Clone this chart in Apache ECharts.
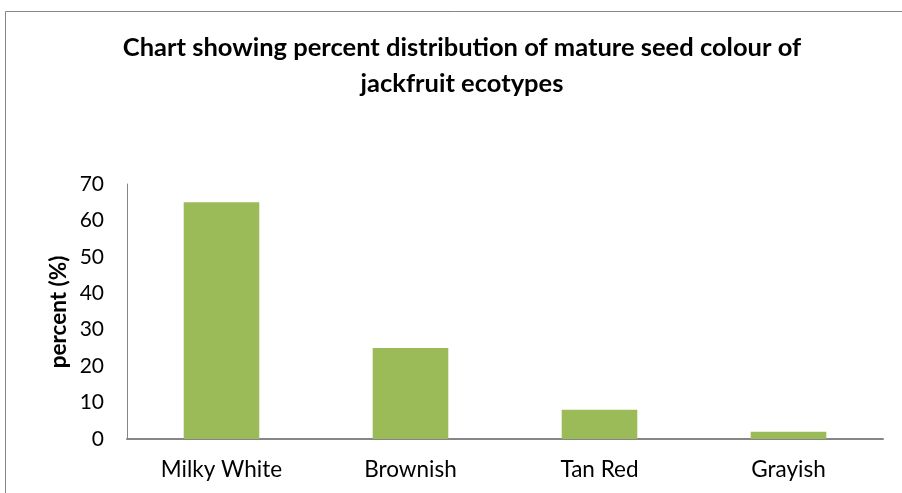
<!DOCTYPE html>
<html>
<head>
<meta charset="utf-8">
<script src="https://cdn.jsdelivr.net/npm/echarts@6/dist/echarts.min.js"></script>
<style>
html,body{margin:0;padding:0;background:#fff;}
#c{width:902px;height:493px;}
</style>
</head>
<body>
<div id="c"></div>
<script>
const categories = ['Milky White', 'Brownish', 'Tan Red', 'Grayish'];
const percentValues = [65, 25, 8, 2];
const yTicks = [0, 10, 20, 30, 40, 50, 60, 70];
const yAxisTitle = 'percent (%)';

const chart = echarts.init(document.getElementById('c'), null, {renderer: 'canvas'});
chart.setOption({
  animation: false,
  backgroundColor: '#fff',
  graphic: [{
    type: 'rect',
    shape: {x: 5.5, y: 11.5, width: 1000, height: 1000},
    style: {fill: 'none', stroke: '#868686', lineWidth: 1},
    silent: true, z: -1
  }, {
    type: 'text',
    x: 59, y: 312, rotation: Math.PI / 2,
    style: {
      text: yAxisTitle, fontFamily: 'Lato', fontWeight: 'bold', fontSize: 22.5,
      fill: '#000', align: 'center', verticalAlign: 'middle'
    },
    silent: true
  }],
  title: {
    text: 'Chart showing percent distribution of mature seed colour of\njackfruit ecotypes',
    left: 457, top: 25, textAlign: 'center',
    textStyle: {
      fontFamily: 'Lato', fontWeight: 'bold', fontSize: 25.5,
      color: '#000', lineHeight: 36
    }
  },
  grid: {left: 127, right: 19, top: 184, bottom: 54, containLabel: false},
  xAxis: {
    type: 'category', data: categories,
    axisLine: {lineStyle: {color: '#868686', width: 2}},
    axisTick: {show: false},
    axisLabel: {fontFamily: 'Lato', fontSize: 22.5, color: '#000', margin: 19}
  },
  yAxis: {
    type: 'value', min: 0, max: 70, interval: 10,
    axisLine: {show: true, lineStyle: {color: '#868686', width: 1}},
    axisTick: {show: false},
    splitLine: {show: false},
    axisLabel: {fontFamily: 'Lato', fontSize: 21, color: '#000', margin: 23,
      formatter: v => yTicks.includes(v) ? String(v) : ''}
  },
  series: [{
    type: 'bar', data: percentValues, barWidth: '40%',
    itemStyle: {color: '#9BBB59'}
  }]
});
</script>
</body>
</html>
